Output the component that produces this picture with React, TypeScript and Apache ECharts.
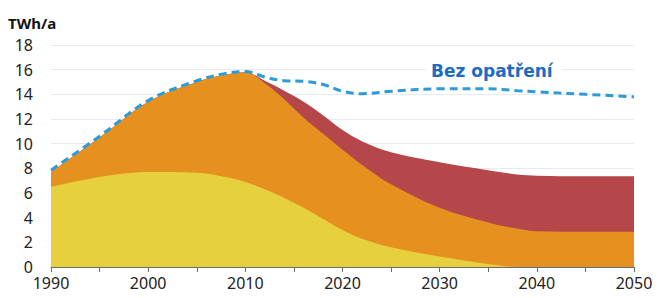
import React, { useEffect, useRef } from "react";
import * as echarts from "echarts";

const years = [1990, 1995, 2000, 2005, 2008, 2010, 2012, 2014, 2016, 2018, 2020, 2022, 2025, 2030, 2035, 2038, 2040, 2045, 2050];
// top edges of the stacked layers (TWh/a)
const yellowTop = [6.5, 7.3, 7.7, 7.65, 7.3, 6.9, 6.3, 5.6, 4.8, 3.9, 3.0, 2.3, 1.6, 0.85, 0.25, 0, 0, 0, 0];
const orangeTop = [7.7, 10.5, 13.4, 15.0, 15.6, 15.8, 14.9, 13.6, 12.1, 10.8, 9.5, 8.3, 6.7, 4.8, 3.6, 3.1, 2.9, 2.85, 2.85];
const redTop = [7.7, 10.5, 13.4, 15.0, 15.6, 15.8, 15.1, 14.3, 13.4, 12.3, 11.1, 10.2, 9.3, 8.5, 7.85, 7.5, 7.4, 7.35, 7.35];
const bezOpatreni = [7.85, 10.6, 13.5, 15.1, 15.7, 15.85, 15.4, 15.1, 15.05, 14.8, 14.25, 14.05, 14.25, 14.45, 14.45, 14.3, 14.2, 14.0, 13.8];
const yTicks = [0, 2, 4, 6, 8, 10, 12, 14, 16, 18];
const unitLabel = "TWh/a";
const lineLabel = "Bez opatření";

export default function App() {
  const ref = useRef<HTMLDivElement>(null);
  useEffect(() => {
    if (!ref.current) return;
    const chart = echarts.init(ref.current, null, { renderer: "svg" });
    const layers = [
      { data: redTop, color: "#b5464a" },
      { data: orangeTop, color: "#e6911f" },
      { data: yellowTop, color: "#e6d03e" },
    ];
    const areaSeries = layers.map((l, i) => ({
      type: "line",
      data: years.map((y, k) => [y, l.data[k]]),
      smooth: 0.35,
      symbol: "none",
      lineStyle: { width: 0 },
      areaStyle: { color: l.color, opacity: 1 },
      z: 2 + i,
    }));
    chart.setOption({
      animation: false,
      grid: { left: 51, right: 32, top: 45, bottom: 31 },
      xAxis: {
        type: "value",
        min: 1990,
        max: 2050,
        interval: 10,
        axisLine: { show: true, lineStyle: { color: "#6b6b6b", width: 1 } },
        axisTick: { show: true, length: 5, lineStyle: { color: "#6b6b6b" } },
        minorTick: { show: true, splitNumber: 2, length: 5, lineStyle: { color: "#6b6b6b" } },
        splitLine: { show: false },
        axisLabel: {
          margin: 8,
          fontSize: 16,
          color: "#222",
          fontFamily: "Noto Sans",
          formatter: (v: number) => String(v),
        },
      },
      yAxis: {
        type: "value",
        min: yTicks[0],
        max: yTicks[yTicks.length - 1],
        interval: 2,
        axisLine: { show: false },
        axisTick: { show: false },
        splitLine: { show: true, lineStyle: { color: "#e6ebf1", width: 1 } },
        axisLabel: { margin: 18, fontSize: 16, color: "#222", fontFamily: "Noto Sans" },
      },
      series: [
        ...areaSeries,
        {
          type: "line",
          data: years.map((y, k) => [y, bezOpatreni[k]]),
          smooth: 0.35,
          symbol: "none",
          lineStyle: { color: "#2d9ad9", width: 3, type: [8, 5] },
          z: 6,
        },
      ],
      graphic: [
        {
          type: "text",
          left: 8,
          top: 15,
          style: { text: unitLabel, font: "bold 15px 'Noto Sans'", fill: "#111" },
        },
        {
          type: "rect",
          left: 426,
          top: 62,
          shape: { width: 136, height: 19 },
          style: { fill: "#fff" },
          z: 10,
        },
        {
          type: "text",
          left: 431,
          top: 62,
          style: { text: lineLabel, font: "bold 17px 'DejaVu Sans'", fill: "#1e6cc0" },
          z: 11,
        },
      ],
    });
    return () => chart.dispose();
  }, []);
  return (
    <div
      ref={ref}
      style={{ position: "fixed", left: 0, top: 0, width: 666, height: 298, background: "#fff" }}
    />
  );
}
